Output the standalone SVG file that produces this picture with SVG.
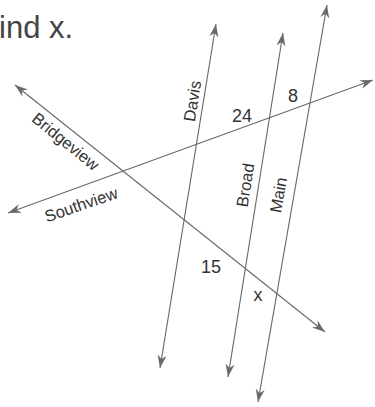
<svg xmlns="http://www.w3.org/2000/svg" width="375" height="407" viewBox="0 0 375 407">
<style>
.ln{stroke:#6a6a6a;stroke-width:1.15;fill:none;marker-start:url(#ah);marker-end:url(#ah)}
.lb{font-family:"Liberation Sans",Arial,sans-serif;font-size:16.5px;fill:#333;text-anchor:middle}
.num{font-family:"Liberation Sans",Arial,sans-serif;font-size:18px;fill:#333;text-anchor:middle}
.ttl{font-family:"Liberation Sans",Arial,sans-serif;font-size:31px;fill:#444}
</style>
<defs>
<marker id="ah" viewBox="-14 -6 16 12" refX="0" refY="0" markerWidth="16" markerHeight="12" markerUnits="userSpaceOnUse" orient="auto-start-reverse">
<path d="M0,0 L-13,-4.5 L-9,0 L-13,4.5 Z" fill="#6a6a6a"/>
</marker>
</defs>
<rect width="375" height="407" fill="#fff"/>
<text class="ttl" x="-1" y="38">ind x.</text>
<g id="connectors">
<line id="davis-line" class="ln" x1="160" y1="368" x2="216" y2="24"/>
<line id="broad-line" class="ln" x1="228" y1="377" x2="283" y2="33"/>
<line id="main-line" class="ln" x1="258" y1="402" x2="327" y2="5"/>
<line id="southview-line" class="ln" x1="8" y1="213" x2="373" y2="80"/>
<line id="bridgeview-line" class="ln" x1="15" y1="85" x2="325" y2="332"/>
</g>
<g id="davis"><text class="lb" transform="translate(198,102) rotate(-81)">Davis</text></g>
<g id="broad"><text class="lb" transform="translate(251,186) rotate(-81)">Broad</text></g>
<g id="main"><text class="lb" transform="translate(284,196) rotate(-80)">Main</text></g>
<g id="bridgeview"><text class="lb" transform="translate(62,146) rotate(39)">Bridgeview</text></g>
<g id="southview"><text class="lb" transform="translate(83,210) rotate(-19)">Southview</text></g>
<g id="labels">
<text class="num" x="242" y="122">24</text>
<text class="num" x="293" y="102">8</text>
<text class="num" x="211" y="273">15</text>
<text class="num" x="258" y="301">x</text>
</g>
</svg>
